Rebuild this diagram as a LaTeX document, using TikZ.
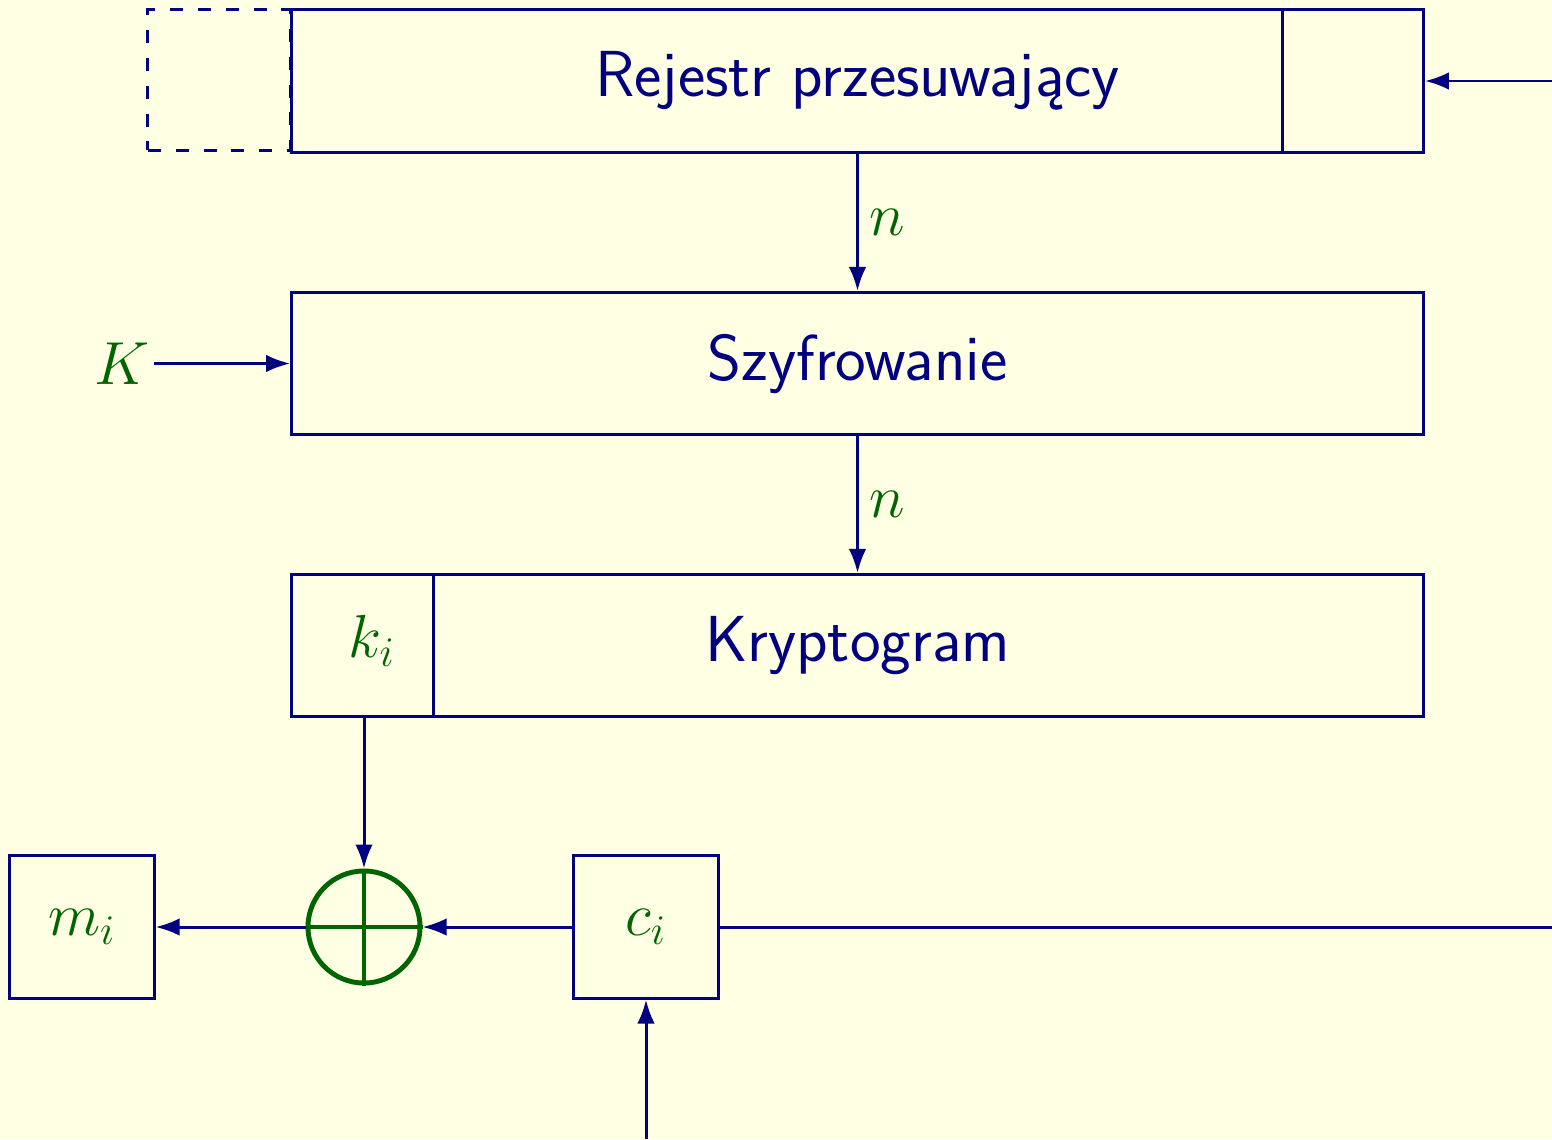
\documentclass[tikz,border=0pt]{standalone}
\usepackage{fontspec}
\usetikzlibrary{arrows.meta}
\definecolor{bgc}{RGB}{255,255,228}
\definecolor{myblue}{RGB}{0,0,128}
\definecolor{mygreen}{RGB}{0,100,0}
\tikzset{
  boxline/.style={draw=myblue, line width=0.85pt},
  blk/.style={boxline, inner sep=0pt, text=myblue, font=\sffamily\fontsize{18.5}{22}\selectfont, minimum height=1.42cm},
  sq/.style={boxline, inner sep=0pt, text=mygreen, minimum width=1.44cm, minimum height=1.42cm},
  grn/.style={text=mygreen, font=\fontsize{18.5}{22}\selectfont},
  conn/.style={boxline, -{Latex[length=2.4mm,width=1.75mm]}},
  lineonly/.style={boxline}
}
\begin{document}
\begin{tikzpicture}[x=0.01cm,y=-0.01cm, font=\fontsize{18.5}{22}\selectfont]
\fill[bgc] (0,0) rectangle (1552,1139);
\useasboundingbox (0,0) rectangle (1552,1139);

% dashed box
\node[draw=myblue, line width=0.85pt, dash pattern=on 3.7pt off 4.2pt, minimum width=1.42cm, minimum height=1.40cm, inner sep=0pt] (dashbox) at (219,80) {};

% main blocks
\node[blk, minimum width=11.31cm] (reg) at (857.5,81) {Rejestr przesuwający};
\draw[boxline] ([xshift=-1.42cm]reg.north east) -- ([xshift=-1.42cm]reg.south east);

\node[blk, minimum width=11.31cm] (szyf) at (857.5,363.5) {Szyfrowanie};
\node[blk, minimum width=11.31cm] (kryp) at (857.5,645.5) {Kryptogram};
\draw[boxline] ([xshift=1.43cm]kryp.north west) -- ([xshift=1.43cm]kryp.south west);
\node[grn, inner sep=1pt] (ki) at (372,641) {$k_i$};
\coordinate (kbot) at (364,717);

% bottom row
\node[sq] (mi) at (82,927) {$m_i$};
\node[sq] (ci) at (646,927) {$c_i$};
\node[circle, draw=mygreen, line width=1.4pt, minimum size=1.12cm, inner sep=0pt] (xor) at (364,927) {};
\draw[draw=mygreen, line width=1.4pt] (xor.north) -- (xor.south) (xor.west) -- (xor.east);

% K input
\node[grn, inner sep=1pt] (K) at (122,363.5) {$K$};

% free ends
\coordinate (inright) at (1552,81);
\coordinate (outright) at (1552,927);
\coordinate (inbot) at (646,1139);

% connectors
\draw[conn] (inright) -- (reg.east);
\draw[conn] (reg.south) -- node[grn, right, inner sep=3pt] (n1) {$n$} (szyf.north);
\draw[conn] (szyf.south) -- node[grn, right, inner sep=3pt] (n2) {$n$} (kryp.north);
\draw[conn] (K.east) -- (szyf.west);
\draw[conn] (kbot) -- (xor.north);
\draw[conn] (ci.west) -- (xor.east);
\draw[conn] (xor.west) -- (mi.east);
\draw[lineonly] (ci.east) -- (outright);
\draw[conn] (inbot) -- (ci.south);
\end{tikzpicture}
\end{document}
